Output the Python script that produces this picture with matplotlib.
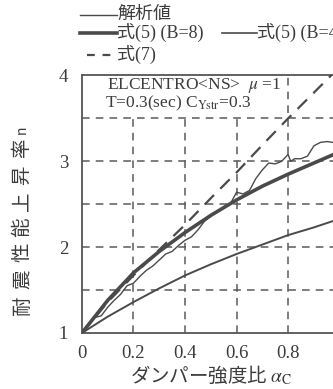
import matplotlib
matplotlib.use("Agg")
import matplotlib.pyplot as plt
from matplotlib.lines import Line2D

plt.rcParams['font.family'] = ['Liberation Serif', 'Noto Sans CJK JP']
plt.rcParams['mathtext.fontset'] = 'stix'

ink = '#4a4a4a'
txt = '#3c3c3c'

# damper strength ratio vs. seismic performance gain
alpha = [0.0, 0.1, 0.2, 0.3, 0.4, 0.5, 0.6, 0.7, 0.8, 0.9, 1.0]
eq5_b8 = [1.0, 1.38, 1.70, 1.95, 2.17, 2.37, 2.55, 2.71, 2.85, 2.98, 3.11]
eq5_b4 = [1.0, 1.19, 1.36, 1.52, 1.67, 1.80, 1.92, 2.03, 2.14, 2.23, 2.33]
eq7 = [1.0, 1.36, 1.67, 1.97, 2.26, 2.57, 2.87, 3.19, 3.50, 3.80, 4.10]

# time-history analysis results
alpha_an = [0.0, 0.025, 0.05, 0.075, 0.1, 0.125, 0.15, 0.175, 0.2, 0.225,
            0.25, 0.275, 0.3, 0.325, 0.35, 0.375, 0.4, 0.425, 0.45, 0.475,
            0.5, 0.525, 0.55, 0.575, 0.6, 0.625, 0.65, 0.675, 0.7, 0.725,
            0.75, 0.775, 0.8, 0.81, 0.825, 0.85, 0.875, 0.9, 0.925, 0.95,
            0.975, 1.0]
n_an = [1.0, 1.10, 1.18, 1.20, 1.30, 1.38, 1.45, 1.55, 1.58, 1.66,
        1.73, 1.78, 1.85, 1.92, 1.95, 2.02, 2.08, 2.12, 2.20, 2.30,
        2.36, 2.42, 2.46, 2.50, 2.64, 2.62, 2.66, 2.80, 2.90, 2.98,
        2.97, 3.00, 3.08, 3.00, 3.03, 3.03, 3.06, 3.18, 3.22, 3.23,
        3.22, 3.20]

xticks = [0, 0.2, 0.4, 0.6, 0.8]
xtick_labels = ['0', '0.2', '0.4', '0.6', '0.8']
yticks = [1, 2, 3, 4]
ylabel = '耐震性能上昇率n'

fig = plt.figure(figsize=(3.33, 3.89), dpi=100)
ax = fig.add_axes([0.246, 0.144, 0.774, 0.662])
ax.set_xlim(0, 1.0)
ax.set_ylim(1, 4)

# dashed grid, vertical ones stop under the caption block
grid_kw = dict(color='#5a5a5a', lw=1.1, ls=(0, (5, 4)), zorder=1)
for yv in [1.5, 2, 2.5, 3, 3.5]:
    ax.axhline(yv, **grid_kw)
for xv in [0.2, 0.4, 0.6]:
    ax.plot([xv, xv], [1, 3.5], **grid_kw)
ax.plot([0.8, 0.8], [1, 4], **grid_kw)

ax.plot(alpha, eq5_b4, color=ink, lw=1.4, zorder=3)
ax.plot(alpha_an, n_an, color=ink, lw=1.0, zorder=3)
ax.plot(alpha, eq5_b8, color=ink, lw=2.6, zorder=4)
ax.plot(alpha, eq7, color=ink, lw=1.6, ls=(0, (6, 4)), zorder=3)

for s in ['left', 'top', 'bottom']:
    ax.spines[s].set_color('#555555')
    ax.spines[s].set_linewidth(1.3)
ax.spines['right'].set_visible(False)

ax.set_xticks(xticks)
ax.set_xticklabels(xtick_labels)
ax.set_yticks(yticks)
ax.tick_params(length=0, labelsize=13.5, colors=txt, pad=10)
ax.tick_params(axis='x', pad=9)

ax.text(0.097, 3.885, 'ELCENTRO<NS>  $\\mu$ =1', fontsize=12.5, color=txt,
        va='center', ha='left', zorder=5)
ax.text(0.09, 3.675, 'T=0.3(sec) C$_{\\mathrm{Ystr}}$=0.3', fontsize=12.5,
        color=txt, va='center', ha='left', zorder=5)

ax.set_xlabel('ダンパー強度比 $\\alpha_{\\mathrm{C}}$', fontsize=14,
              color=txt, family=['Noto Sans CJK JP'], labelpad=1)

# legend rows and the spaced-out y label drawn in figure pixels
W, H = 333, 389

ylab_y = [305, 279, 252, 227, 201, 175, 148, 130]
for ch, yp in zip(ylabel, ylab_y):
    fig.text(22 / W, 1 - yp / H, ch, rotation=90, fontsize=14 if ch != 'n' else 10,
             color=txt, family=['Noto Sans CJK JP'], ha='center', va='center')


def key(x0, x1, y, **kw):
    fig.add_artist(Line2D([x0 / W, x1 / W], [1 - y / H, 1 - y / H],
                          transform=fig.transFigure, color=ink, **kw))


def label(x, y, s):
    fig.text(x / W, 1 - y / H, s, fontsize=13, color=txt, va='center',
             ha='left')


key(80, 117, 15, lw=1.0)
label(117, 14, '解析値')
key(80, 117, 33, lw=2.6)
label(117, 32, '式(5) (B=8)')
key(222, 257, 33, lw=1.2)
label(257, 32, '式(5) (B=4)')
key(87, 117, 55, lw=1.6, ls=(0, (3.5, 3.5)))
label(117, 54, '式(7)')

fig.savefig('out.png', dpi=100)
